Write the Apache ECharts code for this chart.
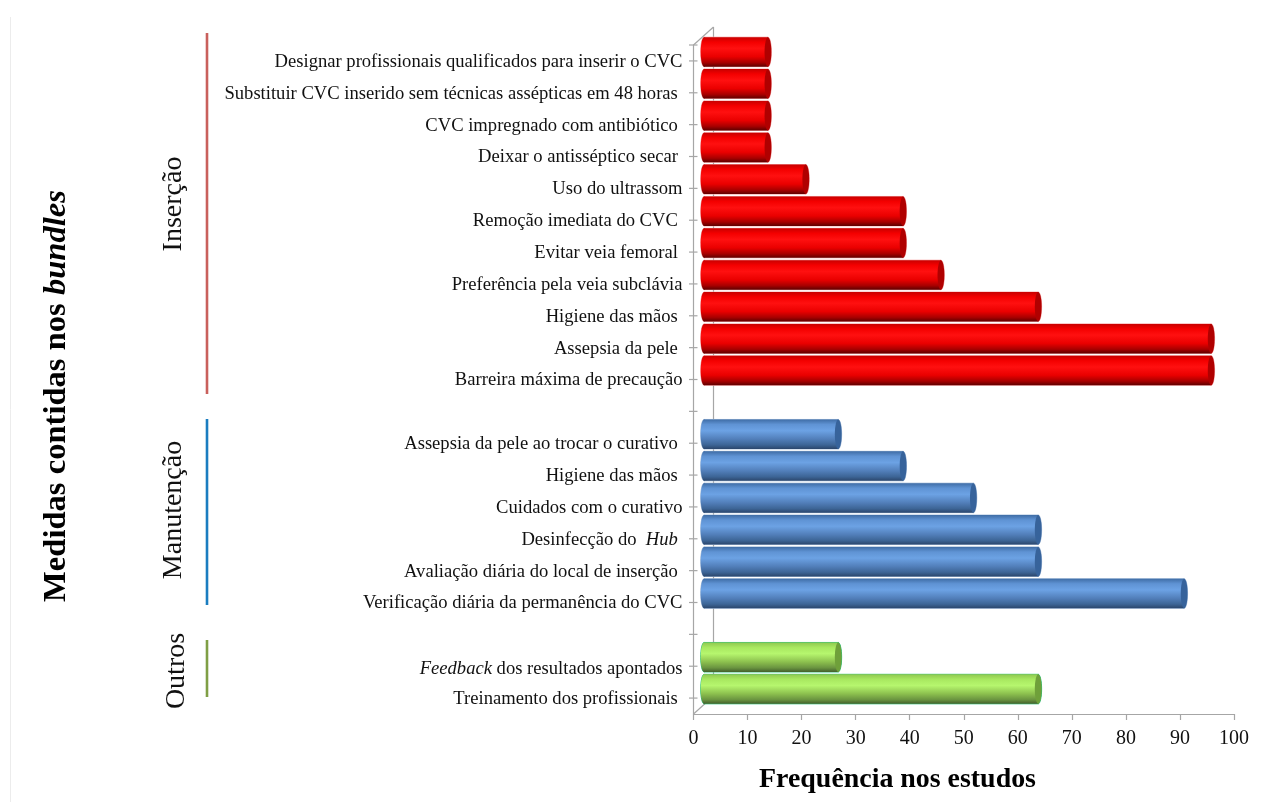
<!DOCTYPE html>
<html><head><meta charset="utf-8">
<style>html,body{margin:0;padding:0;background:#fff}#c{width:1279px;height:802px}</style>
<script src="https://cdn.jsdelivr.net/npm/echarts@6/dist/echarts.min.js"></script>
</head><body><div id="c"></div>
<script>
const insercaoLabels=['Designar profissionais qualificados para inserir o CVC','Substituir CVC inserido sem técnicas assépticas em 48 horas ','CVC impregnado com antibiótico ','Deixar o antisséptico secar ','Uso do ultrassom','Remoção imediata do CVC ','Evitar veia femoral ','Preferência pela veia subclávia','Higiene das mãos ','Assepsia da pele ','Barreira máxima de precaução'];
const insercaoValues=[14,14,14,14,21,39,39,46,64,96,96];
const manutencaoLabels=['Assepsia da pele ao trocar o curativo ','Higiene das mãos ','Cuidados com o curativo','Desinfecção do  *Hub* ','Avaliação diária do local de inserção ','Verificação diária da permanência do CVC'];
const manutencaoValues=[27,39,52,64,64,91];
const outrosLabels=['*Feedback* dos resultados apontados','Treinamento dos profissionais '];
const outrosValues=[27,64];
const categories=[...insercaoLabels,'',...manutencaoLabels,'',...outrosLabels];
const xTicks={min:0,max:100,interval:10};
const SERIF='"Liberation Serif","Times New Roman",serif';
const LABEL_SIZE=18.6;
const grid={left:693.5,top:45,width:540.5,height:669};
const DEPTH={dx:20,dy:-18,barStart:7.2,barEnd:2.2,barLift:9,barH:29.5,capRx:3.4};

const palettes={
 red:{stops:['#c80000','#f40000','#ff1010','#ea0000','#a80000','#5e0000'],cap:'#b00000',stroke:'#f7a8a8'},
 blue:{stops:['#3f6da6','#5f93d4','#6ca2e4','#527fba','#3d6596','#2b466c'],cap:'#37639b',stroke:'#a4bcda'},
 green:{stops:['#8fc850','#a8e860','#b6f66e','#8cc04e','#6a9440','#43602c'],cap:'#6fa03a',stroke:'#2fc27a'}
};
function grad(p){const o=[0,.17,.38,.66,.86,1];return {type:'linear',x:0,y:0,x2:0,y2:1,colorStops:p.stops.map((c,i)=>({offset:o[i],color:c}))};}
function cylinder(pal){
 return function(params,api){
  const v=api.value(0),idx=api.value(1);
  const p0=api.coord([0,idx]),p1=api.coord([v,idx]);
  const cy=p0[1]-DEPTH.barLift,h=DEPTH.barH,rx=DEPTH.capRx;
  const xl=p0[0]+DEPTH.barStart+rx,xr=p1[0]+DEPTH.barEnd-rx;
  const g=grad(pal);
  const ell=(cx,st)=>({type:'ellipse',shape:{cx,cy,rx,ry:h/2},style:st});
  const rect=(st)=>({type:'rect',shape:{x:xl,y:cy-h/2,width:xr-xl,height:h},style:st});
  const edge={fill:pal.stroke,stroke:pal.stroke,lineWidth:1};
  return {type:'group',children:[
   ell(xl,edge),ell(xr,edge),rect(edge),
   ell(xl,{fill:g}),rect({fill:g}),ell(xr,{fill:pal.cap})
  ]};
 };
}
function frame(params,api){
 const idx=api.value(0);const cs=params.coordSys;
 const c='#a6a6a6';const lw=1.2;
 const line=(x1,y1,x2,y2)=>({type:'line',shape:{x1,y1,x2,y2},style:{stroke:c,lineWidth:lw}});
 const y=api.coord([0,idx])[1];
 const kids=[line(cs.x-4.5,y,cs.x+4,y)];
 if(idx===0){
  kids.push(line(cs.x-4.5,cs.y,cs.x+4,cs.y));
  kids.push(line(cs.x,cs.y,cs.x+DEPTH.dx,cs.y+DEPTH.dy));
  kids.push(line(cs.x+DEPTH.dx,cs.y+DEPTH.dy,cs.x+DEPTH.dx,cs.y+cs.height+DEPTH.dy));
  kids.push(line(cs.x,cs.y+cs.height,cs.x+DEPTH.dx,cs.y+cs.height+DEPTH.dy));
 }
 return {type:'group',children:kids};
}
const toData=(vals,start)=>vals.map((v,i)=>[v,start+i]);
const customBar=(name,vals,start,pal)=>({type:'custom',name,renderItem:cylinder(pal),encode:{x:0,y:1},data:toData(vals,start),z:5,clip:false,animation:false,silent:true});

const groupLines=[
 {text:'Inserção',x:174,yc:204,y1:33,y2:394,color:'#c9605c'},
 {text:'Manutenção',x:173.5,yc:510,y1:419,y2:605,color:'#1a7dc0'},
 {text:'Outros',x:176.5,yc:671,y1:640,y2:697,color:'#7f9f45'}
];
const graphics=[
 {type:'line',shape:{x1:10.5,y1:17,x2:10.5,y2:802},style:{stroke:'#ececec',lineWidth:1},silent:true},
 {type:'text',x:57,y:396,rotation:Math.PI/2,silent:true,style:{text:'{b|Medidas contidas nos }{i|bundles}',align:'center',verticalAlign:'middle',rich:{
   b:{font:'bold 32.6px '+SERIF,fill:'#000'},i:{font:'italic bold 32.6px '+SERIF,fill:'#000'}}}},
 {type:'text',x:897.5,y:780,silent:true,style:{text:'Frequência nos estudos',font:'bold 27.9px '+SERIF,fill:'#000',align:'center',verticalAlign:'middle'}}
];
groupLines.forEach(g=>{
 graphics.push({type:'line',shape:{x1:207,y1:g.y1,x2:207,y2:g.y2},style:{stroke:g.color,lineWidth:2.6},silent:true});
 graphics.push({type:'text',x:g.x,y:g.yc,rotation:Math.PI/2,silent:true,style:{text:g.text,font:'28px '+SERIF,fill:'#111',align:'center',verticalAlign:'middle'}});
});

const txt=(extra)=>Object.assign({fontFamily:SERIF,fontSize:LABEL_SIZE,color:'#111'},extra);
const chart=echarts.init(document.getElementById('c'),null,{renderer:'canvas',width:1279,height:802});
chart.setOption({
 animation:false,backgroundColor:'#fff',
 grid:grid,
 xAxis:{type:'value',min:xTicks.min,max:xTicks.max,interval:xTicks.interval,
  axisLine:{show:true,lineStyle:{color:'#a6a6a6',width:1.2}},
  axisTick:{show:true,length:6,lineStyle:{color:'#a6a6a6',width:1.2}},
  splitLine:{show:false},
  axisLabel:{margin:15,color:'#111',fontFamily:SERIF,fontSize:20}},
 yAxis:{type:'category',inverse:true,data:categories,
  axisLine:{show:true,onZero:false,lineStyle:{color:'#a6a6a6',width:1.2}},
  axisTick:{show:false},splitLine:{show:false},
  axisLabel:{interval:0,margin:11,color:'#111',fontFamily:SERIF,fontSize:LABEL_SIZE,
   formatter:function(s){
    const low=s.indexOf('Feedback')>=0;
    const parts=s.split('*');
    return parts.map((t,i)=>t===''?'':'{'+(i%2?'i':'n')+(low?'L':'')+'|'+t+'}').join('');
   },
   rich:{n:txt({padding:[2,0,0,0]}),i:txt({fontStyle:'italic',padding:[2,0,0,0]}),
         nL:txt({padding:[6,0,0,0]}),iL:txt({fontStyle:'italic',padding:[6,0,0,0]})}}},
 graphic:graphics,
 series:[
  {type:'custom',name:'frame',renderItem:frame,encode:{y:0},data:categories.map((c,i)=>[i]),z:1,clip:false,silent:true,coordinateSystem:'cartesian2d'},
  customBar('Inserção',insercaoValues,0,palettes.red),
  customBar('Manutenção',manutencaoValues,insercaoLabels.length+1,palettes.blue),
  customBar('Outros',outrosValues,insercaoLabels.length+manutencaoLabels.length+2,palettes.green)
 ]
});
</script></body></html>
